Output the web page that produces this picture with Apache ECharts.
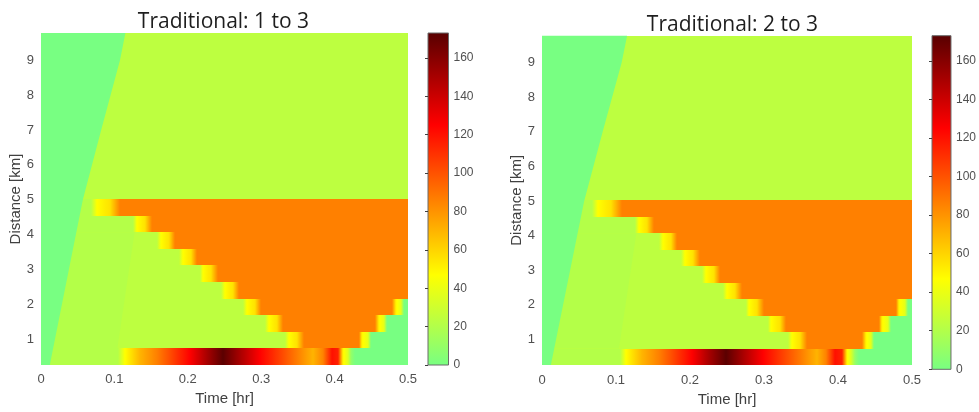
<!DOCTYPE html>
<html>
<head>
<meta charset="utf-8">
<script src="https://cdn.jsdelivr.net/npm/echarts@6/dist/echarts.min.js"></script>
<style>
  html, body { margin: 0; padding: 0; background: #ffffff; }
  #chart { width: 979px; height: 412px; }
</style>
</head>
<body>
<div id="chart"></div>
<script>
// Road cells: distance bin edges [km], 20 cells
const distanceEdges = [0.26, 0.736, 1.212, 1.688, 2.164, 2.64, 3.116, 3.592, 4.068, 4.544,
  5.02, 5.496, 5.972, 6.448, 6.924, 7.4, 7.876, 8.352, 8.828, 9.304, 9.78];

// Density plateaus [veh/km]
const emptyLevel = 0;
const upstreamLevel = 21;
const freeLevel = 24;
const jamLevel = 86;

// Leading edge of the traffic entering the empty road: [distance km, time hr]
const frontDistance = [0.26, 1, 3, 5, 7, 9, 9.78];
const frontTime = [0.012, 0.019, 0.038, 0.057, 0.082, 0.1076, 0.115];

// Faint wave separating the upstream flow from the free flow (cells 1-7)
const waveDistance = [0.736, 4.068];
const waveTime = [0.104, 0.1275];

// Starting density of each cell behind the leading edge
const baseLevel = [upstreamLevel, freeLevel, freeLevel, freeLevel, freeLevel, freeLevel,
  freeLevel, freeLevel, upstreamLevel, upstreamLevel,
  freeLevel, freeLevel, freeLevel, freeLevel, freeLevel, freeLevel, freeLevel, freeLevel,
  freeLevel, freeLevel];

// Queue tail: time the jam reaches each cell and width of the transition
const tailStart = [null, 0.333, 0.305, 0.275, 0.245, 0.216, 0.188, 0.158, 0.126, 0.068,
  null, null, null, null, null, null, null, null, null, null];
const tailSpan = [null, 0.025, 0.025, 0.025, 0.025, 0.025, 0.025, 0.025, 0.025, 0.040,
  null, null, null, null, null, null, null, null, null, null];
const tailShape = [0, 0.2, 0.64, 1];
const tailLevels = [null, 47, 56, jamLevel];

// Queue head: time the jam clears each cell
const headEnd = [null, 0.433, 0.455, 0.478, null, null, null, null, null, null,
  null, null, null, null, null, null, null, null, null, null];
const headOffsets = [0, 0.005, 0.012, 0.016];
const headLevels = [jamLevel, 50, 38, emptyLevel];

// Bottom cell (on-ramp merge): density profile over time
const bandTimes = [0, 0.105, 0.114, 0.135, 0.158, 0.185, 0.203, 0.226, 0.248,
  0.271, 0.298, 0.326, 0.348, 0.371, 0.384, 0.396, 0.405, 0.412, 0.418, 0.423, 0.428, 0.5];
const bandLevels = [21, 21, 47, 70, 86, 110, 125, 150, 172,
  150, 125, 105, 88, 70, 85, 120, 115, 50, 35, 10, 0, 0];

// Colour scale
const colorMax = 173;
const colormapStops = [0, 47, 86, 125, 173];
const colormapColors = ['#78ff82', '#ffff00', '#ff8000', '#ff0000', '#580000'];

const panelTitles = ['Traditional: 1 to 3', 'Traditional: 2 to 3'];
const distanceTicks = [1, 2, 3, 4, 5, 6, 7, 8, 9];

function colorAt(v) {
  const s = colormapStops;
  const c = colormapColors;
  if (v <= s[0]) return c[0];
  if (v >= s[s.length - 1]) return c[c.length - 1];
  let i = 0;
  while (v > s[i + 1]) i++;
  return echarts.color.lerp((v - s[i]) / (s[i + 1] - s[i]), [c[i], c[i + 1]]);
}

// Keyframes [time, density] of one road cell
function cellProfile(r) {
  if (r === 0) return bandTimes.map((t, i) => [t, bandLevels[i]]);
  let level = baseLevel[r];
  const keys = [[0, level]];
  if (tailStart[r] !== null) {
    keys.push([tailStart[r], level]);
    for (let k = 1; k < tailShape.length; k++) {
      keys.push([tailStart[r] + tailShape[k] * tailSpan[r], tailLevels[k]]);
    }
    level = jamLevel;
  }
  if (headEnd[r] !== null) {
    headOffsets.forEach((o, k) => keys.push([headEnd[r] + o, headLevels[k]]));
    level = emptyLevel;
  }
  keys.push([0.5, level]);
  return keys;
}

// Segments [t0, t1, dLow, dHigh, v0, v1]
const cellSegments = [];
for (let r = 0; r < distanceEdges.length - 1; r++) {
  const keys = cellProfile(r);
  for (let i = 0; i < keys.length - 1; i++) {
    if (keys[i + 1][0] <= keys[i][0]) continue;
    cellSegments.push([keys[i][0], keys[i + 1][0], distanceEdges[r], distanceEdges[r + 1],
      keys[i][1], keys[i + 1][1]]);
  }
}

function rampFill(v0, v1) {
  if (v0 === v1) return colorAt(v0);
  const n = 10;
  const stops = [];
  for (let k = 0; k <= n; k++) {
    stops.push({ offset: k / n, color: colorAt(v0 + (v1 - v0) * k / n) });
  }
  return new echarts.graphic.LinearGradient(0, 0, 1, 0, stops);
}

function renderCell(params, api) {
  const a = api.coord([api.value(0), api.value(3)]);
  const b = api.coord([api.value(1), api.value(2)]);
  const x0 = Math.round(a[0]), x1 = Math.round(b[0]);
  const y0 = Math.round(a[1]), y1 = Math.round(b[1]);
  if (x1 <= x0 || y1 <= y0) return { type: 'group', children: [] };
  return {
    type: 'rect',
    shape: { x: x0, y: y0, width: x1 - x0, height: y1 - y0 },
    style: { fill: rampFill(api.value(4), api.value(5)) }
  };
}

// Region left of an edge line given by [time, distance] vertices
function edgeRegion(times, dists, level) {
  return function (params, api) {
    if (params.dataIndex !== 0) return { type: 'group', children: [] };
    const pts = [api.coord([0, dists[0]])];
    times.forEach((t, i) => pts.push(api.coord([t, dists[i]])));
    pts.push(api.coord([0, dists[dists.length - 1]]));
    return { type: 'polygon', shape: { points: pts }, style: { fill: colorAt(level) } };
  };
}

function renderColorbar(params, api) {
  const a = api.coord([0, api.value(1)]);
  const b = api.coord([1, api.value(0)]);
  const stops = colormapStops.map((s, i) => ({ offset: 1 - s / colorMax, color: colormapColors[i] }))
    .sort((p, q) => p.offset - q.offset);
  return {
    type: 'rect',
    shape: { x: a[0], y: a[1], width: b[0] - a[0], height: b[1] - a[1] },
    style: {
      fill: new echarts.graphic.LinearGradient(0, 0, 0, 1, stops),
      stroke: '#6a6a6a',
      lineWidth: 1
    }
  };
}

const tickFont = { fontFamily: 'Liberation Sans', fontSize: 13, color: '#505050' };
const nameFont = { fontFamily: 'Liberation Sans', fontSize: 15, color: '#404040' };

const panels = [
  { plot: { left: 41, top: 33, width: 367, height: 332 },
    bar: { left: 428, top: 33, width: 20.5, height: 332 },
    title: [223.5, 22], xGap: 25, yGap: 18, xMargin: 8, yMargin: 7 },
  { plot: { left: 542, top: 35.7, width: 370, height: 333.6 },
    bar: { left: 932, top: 35.7, width: 21, height: 333.6 },
    title: [732.5, 25], xGap: 27, yGap: 17.5, xMargin: 9, yMargin: 7 }
];

const grid = [], xAxis = [], yAxis = [], series = [], graphic = [];
panels.forEach((p, i) => {
  const gPlot = grid.length;
  grid.push(p.plot);
  xAxis.push({
    type: 'value', gridIndex: gPlot, min: 0, max: 0.5, interval: 0.1,
    name: 'Time [hr]', nameLocation: 'middle', nameGap: p.xGap, nameTextStyle: nameFont,
    axisLine: { show: false }, axisTick: { show: false }, splitLine: { show: false },
    axisLabel: Object.assign({ margin: p.xMargin }, tickFont)
  });
  yAxis.push({
    type: 'value', gridIndex: gPlot, min: distanceEdges[0], max: distanceEdges[distanceEdges.length - 1],
    name: 'Distance [km]', nameLocation: 'middle', nameGap: p.yGap, nameTextStyle: nameFont,
    axisLine: { show: false }, axisTick: { show: false }, splitLine: { show: false },
    axisLabel: Object.assign({ margin: p.yMargin, customValues: distanceTicks }, tickFont)
  });
  series.push({
    type: 'custom', xAxisIndex: gPlot, yAxisIndex: gPlot,
    renderItem: renderCell, encode: { x: [0, 1], y: [2, 3] },
    data: cellSegments, silent: true, z: 2
  });
  series.push({
    type: 'custom', xAxisIndex: gPlot, yAxisIndex: gPlot,
    renderItem: edgeRegion(waveTime, waveDistance, upstreamLevel), encode: { x: 0, y: 1 },
    data: waveTime.map((t, k) => [t, waveDistance[k]]), silent: true, z: 3
  });
  series.push({
    type: 'custom', xAxisIndex: gPlot, yAxisIndex: gPlot,
    renderItem: edgeRegion(frontTime, frontDistance, emptyLevel), encode: { x: 0, y: 1 },
    data: frontTime.map((t, k) => [t, frontDistance[k]]), silent: true, z: 4
  });

  const gBar = grid.length;
  grid.push(p.bar);
  xAxis.push({ type: 'value', gridIndex: gBar, min: 0, max: 1, show: false });
  yAxis.push({
    type: 'value', gridIndex: gBar, min: 0, max: colorMax, interval: 20, position: 'right', z: 5,
    axisLine: { show: false }, splitLine: { show: false },
    axisTick: { show: true, inside: true, length: 3, lineStyle: { color: '#404040', width: 1 } },
    axisLabel: { margin: 5, showMaxLabel: false, fontFamily: 'Liberation Sans', fontSize: 12, color: '#505050' }
  });
  series.push({
    type: 'custom', xAxisIndex: gBar, yAxisIndex: gBar,
    renderItem: renderColorbar, encode: { x: [], y: [0, 1] },
    data: [[0, colorMax]], silent: true, z: 2
  });

  graphic.push({
    type: 'text', x: p.title[0], y: p.title[1],
    style: {
      text: panelTitles[i], fill: '#1e1e1e', font: '21px "Open Sans"',
      align: 'center', verticalAlign: 'middle', textAlign: 'center', textVerticalAlign: 'middle'
    }
  });
});

const chart = echarts.init(document.getElementById('chart'), null, { renderer: 'canvas' });
chart.setOption({
  animation: false,
  backgroundColor: '#ffffff',
  grid, xAxis, yAxis, series, graphic
});
</script>
</body>
</html>
